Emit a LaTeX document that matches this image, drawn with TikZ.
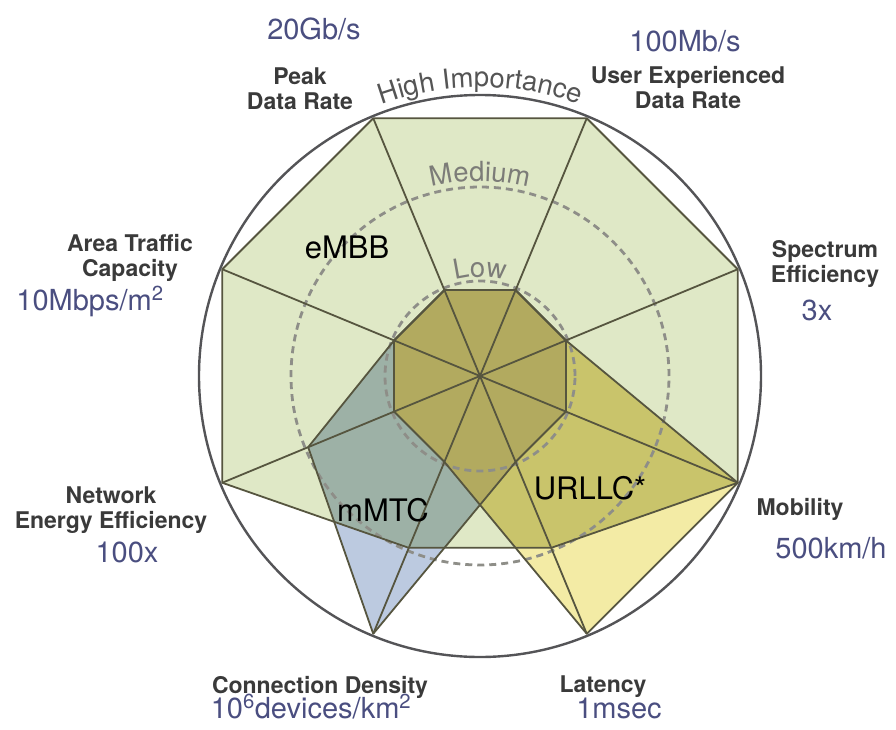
\documentclass[tikz,border=0pt]{standalone}
\usepackage{fontspec}
\setmainfont{TeX Gyre Heros}
\usetikzlibrary{positioning,decorations.text}
\definecolor{embbgreen}{HTML}{DFE8C6}
\definecolor{urllcyellow}{HTML}{F3EBA5}
\definecolor{mmtcblue}{HTML}{BCCAE0}
\definecolor{urllcmix}{HTML}{C9C46B}
\definecolor{mmtcmix}{HTML}{9DB1A6}
\definecolor{coremix}{HTML}{B2AA5F}
\definecolor{edgeline}{HTML}{56553F}
\definecolor{ringline}{HTML}{545457}
\definecolor{levelgray}{HTML}{8E8E88}
\definecolor{labelgray}{HTML}{3A3A3A}
\definecolor{valueblue}{HTML}{4A4E80}
\definecolor{arcgray}{HTML}{555555}
\definecolor{arclight}{HTML}{7C7C78}
\newcommand{\arcfont}{\fontsize{27.5}{28}\selectfont}
\newcommand{\embbshape}{(H1) -- (H2) -- (H3) -- (H4) -- (M5) -- (M6) -- (H7) -- (H8) -- cycle}
\newcommand{\urllcshape}{(L1) -- (L2) -- (L3) -- (H4) -- (H5) -- (L6) -- (L7) -- (L8) -- cycle}
\newcommand{\mmtcshape}{(L1) -- (L2) -- (L3) -- (L4) -- (L5) -- (H6) -- (M7) -- (L8) -- cycle}

\begin{document}
\begin{tikzpicture}[x=1pt, y=1pt,
  lbl/.style={font=\fontsize{23}{25}\selectfont\bfseries, text=labelgray, align=center, inner sep=0pt, anchor=north},
  val/.style={font=\fontsize{29}{30}\selectfont, text=valueblue, inner sep=0pt, anchor=base},
  usecase/.style={font=\fontsize{31}{31}\selectfont, text=black, inner sep=0pt},
  edge/.style={draw=edgeline, line width=1.8pt, line join=round},
  level/.style={draw=levelgray, line width=2.8pt, dash pattern=on 7pt off 5pt}]
  \useasboundingbox (-480,-353) rectangle (416,376);
  \coordinate (O) at (0,0);
  \foreach \a [count=\i] in {112.5,67.5,22.5,-22.5,-67.5,-112.5,-157.5,157.5} {
    \coordinate (H\i) at (\a:279);
    \coordinate (M\i) at (\a:186);
    \coordinate (L\i) at (\a:93);
  }
  % use case areas
  \fill[embbgreen] \embbshape;
  \fill[urllcyellow] \urllcshape;
  \fill[mmtcblue] \mmtcshape;
  \begin{scope}
    \clip \embbshape;
    \fill[urllcmix] \urllcshape;
    \fill[mmtcmix] \mmtcshape;
  \end{scope}
  \begin{scope}
    \clip \urllcshape;
    \clip \mmtcshape;
    \fill[coremix] \embbshape;
  \end{scope}
  % importance levels
  \draw[level] (O) circle[radius=95];
  \draw[level] (O) circle[radius=189];
  \draw[edge] \embbshape;
  \draw[edge] \urllcshape;
  \draw[edge] \mmtcshape;
  \foreach \i in {1,...,8} \draw[edge] (O) -- (H\i);
  \draw[ringline, line width=2.4pt] (O) circle[radius=281];
  \path[decorate, decoration={text along path, text align=center, text color=arcgray,
    text={|\arcfont|High Importance}}] (125:289) arc[start angle=125, end angle=55, radius=289];
  \path[decorate, decoration={text along path, text align=center, text color=arclight,
    text={|\arcfont|Medium}}] (125:195) arc[start angle=125, end angle=55, radius=195];
  \path[decorate, decoration={text along path, text align=center, text color=arclight,
    text={|\arcfont|Low}}] (140:99) arc[start angle=140, end angle=40, radius=99];
  \node[usecase] (embb) at (-133,129) {eMBB};
  \node[usecase] (mmtc) at (-97,-134) {mMTC};
  \node[usecase] (urllc) at (110,-112) {URLLC*};
  % requirements
  \node[lbl] (peak) at (-180,308) {Peak\\Data Rate};
  \node[val] (peakval) at (-166,336) {20Gb/s};
  \node[lbl] (user) at (208,310) {User Experienced\\Data Rate};
  \node[val] (userval) at (205,324) {100Mb/s};
  \node[lbl] (spectrum) at (345,136) {Spectrum\\Efficiency};
  \node[val] (spectrumval) at (337,56) {3x};
  \node[lbl] (mobility) at (320,-122) {Mobility};
  \node[val] (mobilityval) at (351,-182) {500km/h};
  \node[lbl] (latency) at (123,-300) {Latency};
  \node[val] (latencyval) at (139,-342) {1msec};
  \node[lbl] (density) at (-160,-300) {Connection Density};
  \node[val] (densityval) at (-169,-342) {10\textsuperscript{6}devices/km\textsuperscript{2}};
  \node[lbl] (energy) at (-369,-111) {Network\\Energy Efficiency};
  \node[val] (energyval) at (-353,-186) {100x};
  \node[lbl] (area) at (-350,142) {Area Traffic\\Capacity};
  \node[val] (areaval) at (-390,66) {10Mbps/m\textsuperscript{2}};
\end{tikzpicture}
\end{document}
